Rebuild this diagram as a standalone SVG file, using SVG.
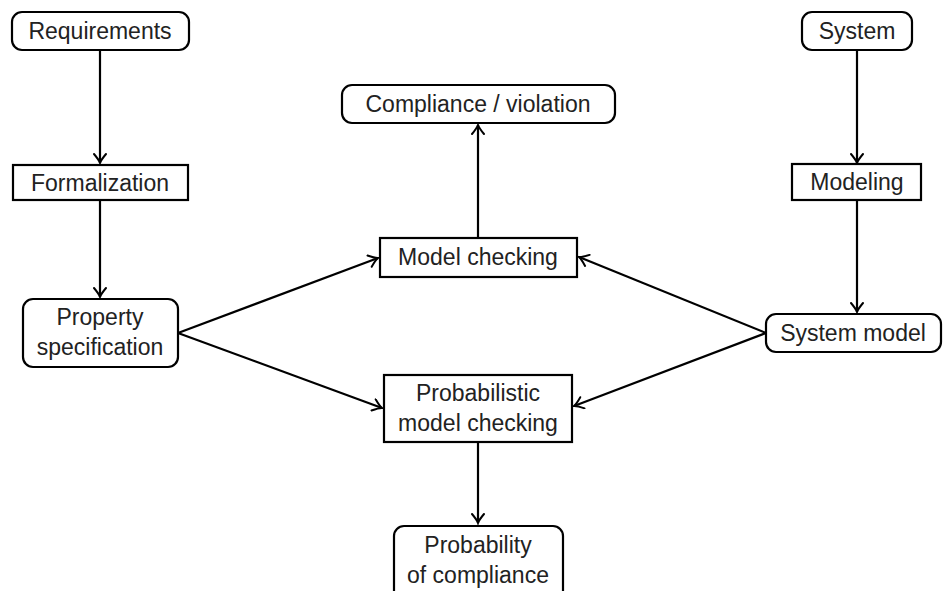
<svg xmlns="http://www.w3.org/2000/svg" width="943" height="591" viewBox="0 0 943 591">
<style>
.box{fill:#fff;stroke:#000;stroke-width:2.2}
.t{font-family:"Liberation Sans","DejaVu Sans",sans-serif;font-size:23px;fill:#222;text-anchor:middle}
.c{fill:none;stroke:#000;stroke-width:2.2;marker-end:url(#arr)}
</style>
<defs>
<marker id="arr" viewBox="-12 -7 14 14" refX="0" refY="0" markerWidth="14" markerHeight="14" markerUnits="userSpaceOnUse" orient="auto">
<path d="M-9,-6 Q-3,-1 0,0 Q-3,1 -9,6" fill="none" stroke="#000" stroke-width="2" stroke-linecap="round"/>
</marker>
</defs>
<rect width="943" height="591" fill="#fff"/>
<g id="connectors">
<path class="c" d="M100,50 V163"/>
<path class="c" d="M100,200 V297"/>
<path class="c" d="M857,50 V163"/>
<path class="c" d="M857,200 V312"/>
<path class="c" d="M478,238 V125"/>
<path class="c" d="M478,442 V523"/>
<path class="c" d="M178,333 L378,258"/>
<path class="c" d="M178,333 L382,408"/>
<path class="c" d="M766,333 L579,257"/>
<path class="c" d="M766,333 L574,406"/>
</g>
<g id="requirements"><rect class="box" x="12" y="12" width="177" height="38" rx="10"/><text class="t" x="100" y="39">Requirements</text></g>
<g id="formalization"><rect class="box" x="13" y="165" width="175" height="35"/><text class="t" x="100" y="191">Formalization</text></g>
<g id="property"><rect class="box" x="23" y="299" width="155" height="68" rx="10"/><text class="t" x="100" y="325">Property</text><text class="t" x="100" y="355">specification</text></g>
<g id="system"><rect class="box" x="802" y="12" width="110" height="38" rx="10"/><text class="t" x="857" y="39">System</text></g>
<g id="modeling"><rect class="box" x="792" y="164" width="129" height="36"/><text class="t" x="857" y="190">Modeling</text></g>
<g id="systemmodel"><rect class="box" x="766" y="314" width="175" height="38" rx="10"/><text class="t" x="853" y="341">System model</text></g>
<g id="compliance"><rect class="box" x="342" y="85" width="273" height="38" rx="10"/><text class="t" x="478" y="112">Compliance / violation</text></g>
<g id="modelchecking"><rect class="box" x="380" y="238" width="197" height="39"/><text class="t" x="478" y="265">Model checking</text></g>
<g id="probmc"><rect class="box" x="384" y="375" width="188" height="67"/><text class="t" x="478" y="401">Probabilistic</text><text class="t" x="478" y="431">model checking</text></g>
<g id="probcomp"><rect class="box" x="394" y="526" width="169" height="75" rx="10"/><text class="t" x="478" y="553">Probability</text><text class="t" x="478" y="583">of compliance</text></g>
</svg>
